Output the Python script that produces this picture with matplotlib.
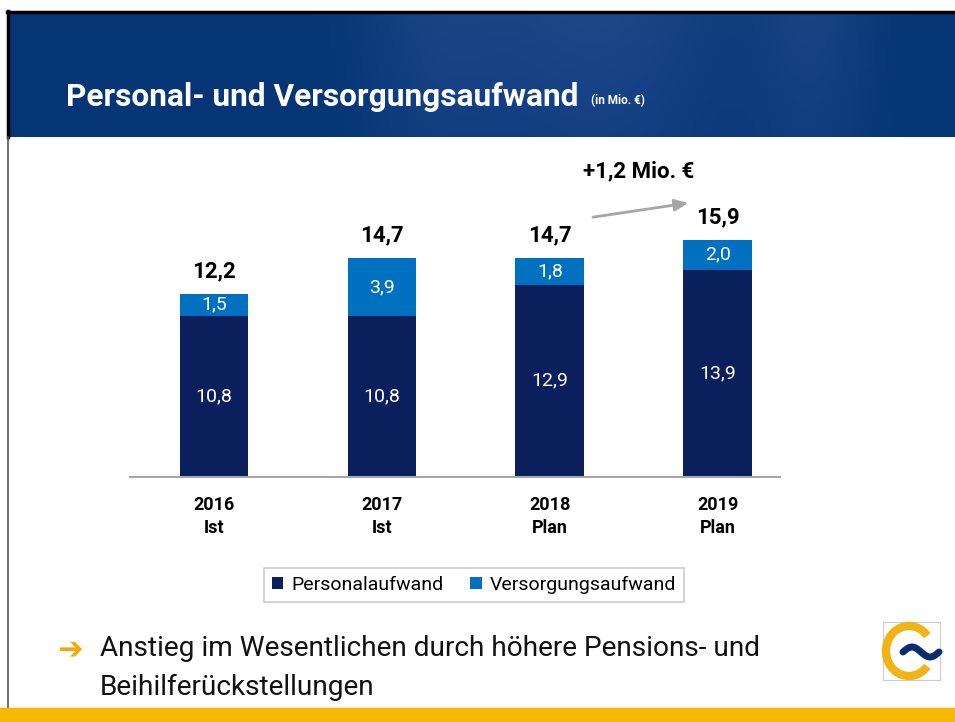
import numpy as np
import matplotlib
matplotlib.use("Agg")
import matplotlib.pyplot as plt
from matplotlib import font_manager
from matplotlib.patches import Rectangle, Arc

# data
years = ["2016\nIst", "2017\nIst", "2018\nPlan", "2019\nPlan"]
personal = [10.8, 10.8, 12.9, 13.9]
versorgung = [1.5, 3.9, 1.8, 2.0]
totals = ["12,2", "14,7", "14,7", "15,9"]
personal_lbl = ["10,8", "10,8", "12,9", "13,9"]
versorgung_lbl = ["1,5", "3,9", "1,8", "2,0"]

NAVY = "#0A1F5C"
BLUE = "#0070C0"

names = {f.name for f in font_manager.fontManager.ttflist}
narrow = "Liberation Sans Narrow" if "Liberation Sans Narrow" in names else "Roboto"
plt.rcParams["font.family"] = [narrow, "DejaVu Sans"]

W, H = 955, 722
fig = plt.figure(figsize=(W / 100, H / 100), dpi=100)
fig.patch.set_facecolor("white")

# overlay in pixel coords for slide decoration
bg = fig.add_axes([0, 0, 1, 1])
bg.set_xlim(0, W)
bg.set_ylim(H, 0)
bg.axis("off")

# header with soft background picture
xx, yy = np.meshgrid(np.linspace(0, 1, 300), np.linspace(0, 1, 40))
light = (0.5 * np.exp(-((xx - 0.62) ** 2) / 0.02) + 0.35 * np.exp(-((xx - 0.85) ** 2) / 0.004)
         + 0.3 * np.exp(-((xx - 0.45) ** 2) / 0.006)) * (0.6 + 0.4 * (1 - yy))
light = np.clip(light, 0, 1)
c0 = np.array([6, 53, 118]) / 255
c1 = np.array([50, 90, 160]) / 255
img = c0 + light[..., None] * (c1 - c0)
bg.imshow(img, extent=[8, W, 137, 13], aspect="auto", zorder=1)
bg.plot([7, W], [12, 12], color="black", lw=2.5, zorder=2)
bg.plot([7.5, 7.5], [11, 137], color="black", lw=2.5, zorder=2)
bg.plot([7.5, 7.5], [137, 708], color="#555555", lw=1.2, zorder=2)

bg.text(66, 97, "Personal- und Versorgungsaufwand", color="white", fontsize=22.8,
        fontweight="bold", va="center", ha="left", zorder=3)
bg.text(591, 101, "(in Mio. €)", color="white", fontsize=8.5, fontweight="bold",
        va="center", ha="left", zorder=3)

# bottom yellow bar
bg.add_patch(Rectangle((0, 708), W, 14, color="#F8B800", zorder=2))

# bottom text
bg.text(57, 650, "➔", color="#F5A800", fontsize=22, va="center", ha="left",
        family="DejaVu Sans", fontweight="bold")
bg.text(100, 648, "Anstieg im Wesentlichen durch höhere Pensions- und", fontsize=20.2,
        va="center", ha="left", color="#111111")
bg.text(100, 687, "Beihilferückstellungen", fontsize=20.2, va="center", ha="left",
        color="#111111")

# logo
bg.add_patch(Rectangle((883, 622), 57, 58, fill=False, ec="#C8CCD8", lw=0.8))
bg.add_patch(Arc((909, 651), 46, 50, theta1=40, theta2=320, color="#F2B316", lw=6))
tx = np.linspace(903, 939, 40)
ty = 652 - 5 * np.sin((tx - 903) / 36 * 2 * np.pi)
bg.plot(tx, ty, color="#0B2C6E", lw=5, solid_capstyle="round")

# chart
ax = fig.add_axes([130 / W, (H - 477) / H, 650 / W, (477 - 140) / H])
x = np.arange(len(years))
bw = 0.41
ax.bar(x, personal, bw, color=NAVY, label="Personalaufwand")
ax.bar(x, versorgung, bw, bottom=personal, color=BLUE, label="Versorgungsaufwand")
ax.set_xlim(-0.5, 3.37)
ax.set_ylim(0, 22.6)
for s in ["top", "right", "left"]:
    ax.spines[s].set_visible(False)
ax.spines["bottom"].set_color("#A6A6A6")
ax.spines["bottom"].set_linewidth(1.5)
ax.set_yticks([])
ax.set_xticks(x)
ax.set_xticklabels(years, fontsize=13, fontweight="bold", linespacing=1.35)
ax.tick_params(axis="x", length=0, pad=14)

for i in x:
    p, v = personal[i], versorgung[i]
    ax.text(i, p / 2, personal_lbl[i], color="white", ha="center", va="center", fontsize=14)
    ax.text(i, p + v / 2, versorgung_lbl[i], color="white", ha="center", va="center", fontsize=14)
    ax.text(i, p + v + 1.5, totals[i], color="black", ha="center", va="center",
            fontsize=16, fontweight="bold")

ax.annotate("", xy=(2.84, 18.4), xytext=(2.24, 17.4),
            arrowprops=dict(arrowstyle="-|>,head_length=0.8,head_width=0.35",
                            color="#A6A6A6", lw=2))
ax.text(2.53, 20.5, "+1,2 Mio. €", ha="center", va="center", fontsize=16, fontweight="bold")

leg = fig.legend(loc="center", bbox_to_anchor=(474 / W, (H - 585) / H), ncol=2,
                 frameon=True, fontsize=14, handlelength=0.6, handleheight=0.6,
                 handletextpad=0.4, columnspacing=1.4, borderpad=0.4, fancybox=False)
leg.get_frame().set_edgecolor("#BFBFBF")
leg.get_frame().set_linewidth(1.2)

fig.savefig("out.png", dpi=100)
